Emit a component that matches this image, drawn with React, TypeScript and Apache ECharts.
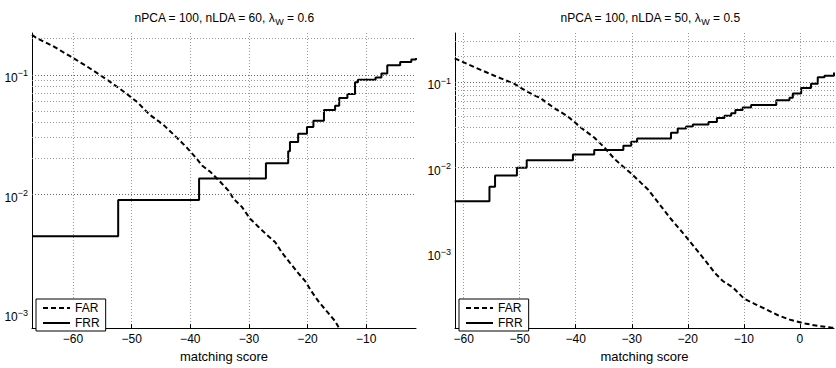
import React, { useEffect, useRef } from "react";
import * as echarts from "echarts";

// ---------- data ----------
// Left panel: nPCA = 100, nLDA = 60, lambda_W = 0.6
const FAR_L_X = [-67, -66.2, -63.4, -60.5, -57.7, -54.8, -52.0, -49.1, -46.9, -44.6, -42.3, -40.6, -38.9, -38.0, -36.6, -34.9, -33.5, -32.6, -31.2, -29.8, -28.4, -26.9, -25.5, -24.4, -23.0, -21.55, -20.4, -19.3, -18.1, -16.7, -15.3, -14.0];
const FAR_L_Y = [0.215, 0.202, 0.173, 0.143, 0.118, 0.0952, 0.0764, 0.0595, 0.0463, 0.0383, 0.0299, 0.0247, 0.0199, 0.0175, 0.0155, 0.0128, 0.0108, 0.0092, 0.0079, 0.0063, 0.0054, 0.0046, 0.004, 0.0033, 0.0027, 0.0022, 0.0019, 0.00155, 0.00128, 0.00106, 0.00088, 0.00068];
const FRR_L_X = [-67, -52.3, -38.5, -27.1, -23.3, -23.0, -21.6, -20.1, -19.0, -17.2, -15.3, -14.6, -13.2, -11.9, -11.4, -8.4, -7.4, -6.4, -4.2, -2.3, -1.5];
const FRR_L_Y = [0.0045, 0.009, 0.0136, 0.0183, 0.023, 0.0275, 0.0322, 0.0367, 0.0413, 0.0508, 0.0552, 0.064, 0.069, 0.0867, 0.091, 0.095, 0.1026, 0.12, 0.128, 0.134, 0.138];

// Right panel: nPCA = 100, nLDA = 50, lambda_W = 0.5
const FAR_R_X = [-61.6, -58.1, -54.5, -50.95, -48.6, -46.2, -43.8, -41.4, -39.05, -36.7, -34.9, -33.1, -31.9, -30.1, -28.3, -27.1, -24.8, -23.0, -21.5, -20.3, -18.2, -17.0, -15.2, -13.75, -11.96, -9.9, -8.1, -6.3, -3.9, -1.55, 0.84, 3.2, 5.6, 6.1];
const FAR_R_Y = [0.19, 0.15, 0.119, 0.0957, 0.0769, 0.0645, 0.0495, 0.0398, 0.0293, 0.0225, 0.0173, 0.0127, 0.0108, 0.00857, 0.0066, 0.00556, 0.00356, 0.00251, 0.00193, 0.00155, 0.00105, 0.00084, 0.00059, 0.000473, 0.000398, 0.000292, 0.000256, 0.000225, 0.000188, 0.000165, 0.000151, 0.000141, 0.000135, 0.000134];
const FRR_R_X = [-61.6, -55.4, -54.4, -50.5, -48.75, -40.5, -36.7, -31.5, -30.1, -29.05, -23.0, -21.8, -20.3, -19.1, -16.3, -14.8, -13.45, -12.25, -11.5, -10.2, -8.7, -4.2, -1.85, -1.25, 0.24, 2.0, 3.2, 4.4, 6.1];
const FRR_R_Y = [0.00406, 0.006, 0.0081, 0.01, 0.0122, 0.01425, 0.0161, 0.0181, 0.0201, 0.0219, 0.0256, 0.0287, 0.0303, 0.0319, 0.0343, 0.038, 0.0404, 0.0434, 0.0473, 0.0504, 0.054, 0.0616, 0.0656, 0.0735, 0.0853, 0.0957, 0.114, 0.119, 0.13];

const TITLES = ["nPCA = 100, nLDA = 60, λ{sub|W} = 0.6", "nPCA = 100, nLDA = 50, λ{sub|W} = 0.5"];
const X_RANGES = [[-67, -1.5], [-61.55, 6.1]];
const Y_RANGES = [[7.7e-4, 0.223], [1.33e-4, 0.376]];
const GRID_L_Y = [8e-4, 9e-4, 1e-3, 2e-3, 3e-3, 4e-3, 5e-3, 6e-3, 7e-3, 8e-3, 9e-3, 1e-2, 2e-2, 3e-2, 4e-2, 5e-2, 6e-2, 7e-2, 8e-2, 9e-2, 0.1, 0.2];
const GRID_R_Y = [2e-4, 3e-4, 4e-4, 5e-4, 6e-4, 7e-4, 8e-4, 9e-4, 1e-3, 2e-3, 3e-3, 4e-3, 5e-3, 6e-3, 7e-3, 8e-3, 9e-3, 1e-2, 2e-2, 3e-2, 4e-2, 5e-2, 6e-2, 7e-2, 8e-2, 9e-2, 0.1, 0.2, 0.3];
const X_LABEL = "matching score";

const FONT = "'Liberation Sans', Arial, Helvetica, sans-serif";

const zip = (xs: number[], ys: number[]) => xs.map((x, i) => [x, ys[i]]);

const isDecade = (v: number) => {
  const l = Math.log10(v);
  return Math.abs(l - Math.round(l)) < 1e-6;
};

export default function App() {
  const ref = useRef<HTMLDivElement>(null);

  useEffect(() => {
    document.body.style.margin = "0";
    if (!ref.current) return;
    const chart = echarts.init(ref.current, undefined, { renderer: "svg" });

    const grids = [
      { left: 32, top: 33, width: 384, height: 302 },
      { left: 455, top: 33, width: 379, height: 302 },
    ];

    const xAxes = [0, 1].map((i) => ({
      type: "value",
      gridIndex: i,
      min: X_RANGES[i][0],
      max: X_RANGES[i][1],
      name: X_LABEL,
      nameLocation: "middle",
      nameGap: 18,
      nameTextStyle: { fontFamily: FONT, fontSize: 13, color: "#000" },
      axisLine: { show: true, onZero: false, lineStyle: { color: "#000", width: 1 } },
      axisTick: { show: true, inside: true, length: 4, lineStyle: { color: "#000" } },
      axisLabel: {
        fontFamily: FONT,
        fontSize: 12,
        color: "#000",
        margin: 5,
        showMinLabel: false,
        showMaxLabel: false,
        formatter: (v: number) => (v < 0 ? "−" + Math.abs(v) : String(v)),
      },
      splitLine: {
        show: true,
        showMinLine: false,
        showMaxLine: false,
        lineStyle: { color: "#999", type: [1, 2], width: 1 },
      },
    }));

    const yAxes = [0, 1].map((i) => ({
      type: "log",
      logBase: 10,
      gridIndex: i,
      min: Y_RANGES[i][0],
      max: Y_RANGES[i][1],
      axisLine: { show: true, onZero: false, lineStyle: { color: "#000", width: 1 } },
      axisTick: { show: false },
      splitLine: { show: false },
      axisLabel: {
        margin: 4,
        padding: [6, 0, 0, 0],
        showMinLabel: false,
        showMaxLabel: false,
        formatter: (v: number) => {
          if (!isDecade(v)) return "";
          const e = Math.round(Math.log10(v));
          return "{b|10}{s|" + (e < 0 ? "−" + Math.abs(e) : String(e)) + "}";
        },
        rich: {
          b: { fontFamily: FONT, fontSize: 12, color: "#000" },
          s: { fontFamily: FONT, fontSize: 9, color: "#000", padding: [0, 0, 9, 0] },
        },
      },
    }));

    const gridSeries = (i: number, vals: number[]) => ({
      type: "line",
      xAxisIndex: i,
      yAxisIndex: i,
      data: [[X_RANGES[i][0], Y_RANGES[i][0]]],
      symbol: "none",
      lineStyle: { opacity: 0 },
      silent: true,
      z: 1,
      markLine: {
        silent: true,
        symbol: "none",
        label: { show: false },
        animation: false,
        data: vals.map((v) => ({
          yAxis: v,
          lineStyle: { color: isDecade(v) ? "#666" : "#999", type: [1, 2], width: 1 },
        })),
      },
    });

    const curve = (name: string, i: number, xs: number[], ys: number[], dashed: boolean) => ({
      name,
      type: "line",
      xAxisIndex: i,
      yAxisIndex: i,
      data: zip(xs, ys),
      symbol: "none",
      showSymbol: false,
      step: dashed ? false : "end",
      clip: true,
      z: 3,
      lineStyle: { color: "#000", width: 2, type: dashed ? [5, 3] : "solid" },
      itemStyle: { color: "#000" },
    });

    const legendBase = {
      orient: "vertical",
      top: 299,
      data: ["FAR", "FRR"],
      backgroundColor: "#fff",
      borderColor: "#000",
      borderWidth: 1,
      borderRadius: 0,
      padding: [3, 6, 2, 6],
      itemGap: 3,
      itemWidth: 27,
      itemHeight: 12,
      selectedMode: false,
      itemStyle: { opacity: 0 },
      textStyle: { fontFamily: FONT, fontSize: 12, color: "#000" },
    };

    chart.setOption({
      animation: false,
      backgroundColor: "#fff",
      title: [
        { text: TITLES[0], left: 219, top: 5, textAlign: "center" },
        { text: TITLES[1], left: 645, top: 5, textAlign: "center" },
      ].map((t) => ({
        ...t,
        textStyle: {
          fontFamily: FONT,
          fontSize: 12,
          fontWeight: "normal",
          color: "#000",
          rich: { sub: { fontFamily: FONT, fontSize: 9, color: "#000", padding: [7, 0, 0, 0] } },
        },
      })),
      legend: [
        { ...legendBase, left: 36 },
        { ...legendBase, left: 459 },
      ],
      grid: grids,
      xAxis: xAxes,
      yAxis: yAxes,
      series: [
        gridSeries(0, GRID_L_Y),
        gridSeries(1, GRID_R_Y),
        curve("FAR", 0, FAR_L_X, FAR_L_Y, true),
        curve("FRR", 0, FRR_L_X, FRR_L_Y, false),
        curve("FAR", 1, FAR_R_X, FAR_R_Y, true),
        curve("FRR", 1, FRR_R_X, FRR_R_Y, false),
      ],
    });

    return () => chart.dispose();
  }, []);

  return <div ref={ref} style={{ width: 836, height: 368 }} />;
}
